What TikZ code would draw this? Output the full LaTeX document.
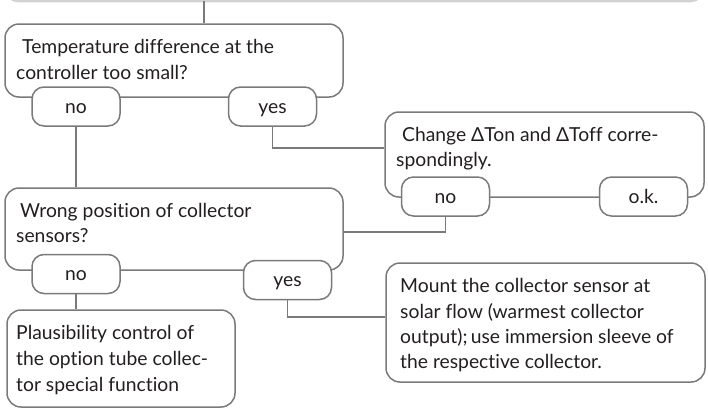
\documentclass[tikz,border=0pt]{standalone}
\usepackage{fontspec}
\setmainfont[Ligatures={NoCommon}]{Lato}
\definecolor{lc}{HTML}{7A7A7A}
\definecolor{tc}{HTML}{231F20}
\definecolor{topc}{HTML}{D2D2D2}
\newcommand{\ft}{\fontsize{19.3}{23}\selectfont}
\begin{document}
\begin{tikzpicture}[x=1pt,y=-1pt,
  box/.style={draw=lc, line width=1.5pt, rounded corners=14pt, fill=white, inner sep=0pt},
  pill/.style={draw=lc, line width=1.5pt, rounded corners=12pt, fill=white, minimum width=88pt, minimum height=39pt, inner sep=0pt, text height=15pt, text depth=2pt, font=\ft, text=tc},
  txt/.style={anchor=base west, inner sep=0pt, font=\ft, text=tc},
  conn/.style={draw=lc, line width=1.5pt}]
\useasboundingbox (0,0) rectangle (708,410);
% top strip (bottom of a previous box)
\draw[topc, line width=2.5pt, rounded corners=12pt] (6,-25) -- (6,1) -- (703,1) -- (703,-25);
\coordinate (top) at (204,1);
% main boxes
\node[box, minimum width=338pt, minimum height=73pt] (b1) at (174,60.5) {};
\node[box, minimum width=319pt, minimum height=85pt] (b3) at (544.5,154.5) {};
\node[box, minimum width=338pt, minimum height=82pt] (b2) at (174,229) {};
\node[box, minimum width=228pt, minimum height=97pt] (b4) at (121,358.5) {};
\node[box, minimum width=319pt, minimum height=119pt] (b5) at (545.5,322.5) {};
% helper levels
\coordinate (l1) at (0,148);
\coordinate (l2) at (0,232);
\coordinate (l3) at (0,317);
% pills
\node[pill] (no1) at (76,106.5) {no};
\node[pill] (yes1) at (272.5,106.5) {yes};
\node[pill] (no3) at (445.5,196.5) {no};
\node[pill] (ok) at (643.5,196.5) {o.k.};
\node[pill] (no2) at (76,274) {no};
\node[pill] (yes2) at (287.5,280) {yes};
% connectors
\draw[conn] (top) -- (b1.north -| top);
\draw[conn] (no1.south) -- (no1.south |- b2.north);
\draw[conn] (yes1.south) |- (b3.west |- l1);
\draw[conn] (no3.south) |- (b2.east |- l2);
\draw[conn] (no2.south) -- (no2.south |- b4.north);
\draw[conn] (yes2.south) |- (b5.west |- l3);
% texts
\node[txt] (t1a) at (22,53) {Temperature difference at the};
\node[txt] (t1b) at (16,79) {controller too small?};
\node[txt] (t3a) at (402,141) {Change ΔTon and ΔToff corre-};
\node[txt] (t3b) at (396,166) {spondingly.};
\node[txt] (t2a) at (20,217) {Wrong position of collector};
\node[txt] (t2b) at (16,242) {sensors?};
\node[txt] (t4a) at (16,339) {Plausibility control of};
\node[txt] (t4b) at (16,365) {the option tube collec-};
\node[txt] (t4c) at (16,391) {tor special function};
\node[txt] (t5a) at (400,292) {Mount the collector sensor at};
\node[txt] (t5b) at (400,318) {solar flow (warmest collector};
\node[txt] (t5c) at (400,343) {output);\,use immersion sleeve of};
\node[txt] (t5d) at (400,368) {the respective collector.};
\end{tikzpicture}
\end{document}
